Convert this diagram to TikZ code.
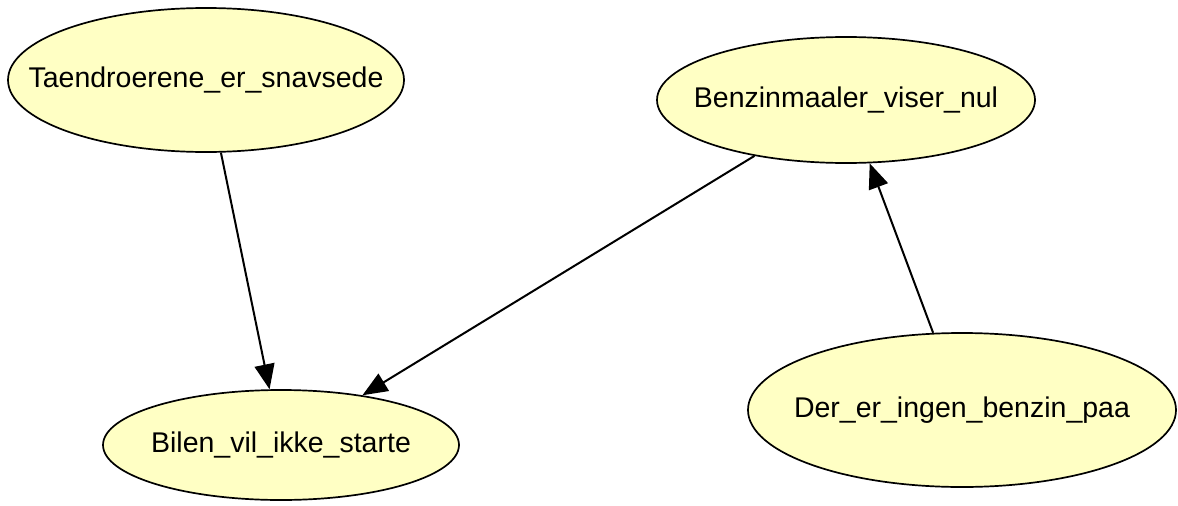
\documentclass[tikz,border=0pt]{standalone}
\usepackage{fontspec}
\setmainfont{Liberation Sans}
\usetikzlibrary{arrows.meta,shapes.geometric}
\definecolor{nodeyellow}{RGB}{255,255,196}
\newcommand{\evtext}[1]{\makebox[0pt]{#1}}

\begin{document}
\begin{tikzpicture}[%
x={(1pt,0pt)},
y={(0pt,-1pt)},
evt/.style={ellipse,draw=black,fill=nodeyellow,line width=1.7pt,inner sep=0pt,font=\fontsize{28.5}{30}\selectfont},
pfeil/.style={line width=2pt,-{Triangle[length=25pt,width=20pt]}},
]

\useasboundingbox (0,0) rectangle (1178,506);

%Knoten
\node[evt,minimum width=396pt,minimum height=144pt](taend) at (206,80){\evtext{Taendroerene\_er\_snavsede}};
\node[evt,minimum width=378pt,minimum height=126pt](benzin) at (846,100){\evtext{Benzinmaaler\_viser\_nul}};
\node[evt,minimum width=356pt,minimum height=110pt](bilen) at (281,445){\evtext{Bilen\_vil\_ikke\_starte}};
\node[evt,minimum width=428pt,minimum height=154pt](ingen) at (962,410){\evtext{Der\_er\_ingen\_benzin\_paa}};

%Kanten
\draw[pfeil] (taend) -- (bilen);
\draw[pfeil] (benzin) -- (bilen);
\draw[pfeil] (ingen) -- (benzin);

\end{tikzpicture}
\end{document}
